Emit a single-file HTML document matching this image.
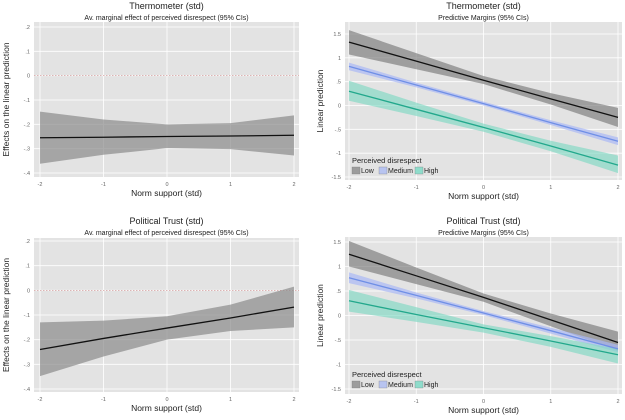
<!DOCTYPE html>
<html><head><meta charset="utf-8"><style>
body{margin:0;background:#fff;width:625px;height:415px;overflow:hidden}
svg{font-family:"Liberation Sans",sans-serif}
</style></head><body>
<svg id="c" width="625" height="415" xmlns="http://www.w3.org/2000/svg"></svg>
<script>
const xCats=[-2,-1,0,1,2];
const xTickLabels=["-2","-1","0","1","2"];
const ameTicks=[0.2,0.1,0,-0.1,-0.2,-0.3,-0.4];
const ameTickLabels=[".2",".1","0","-.1","-.2","-.3","-.4"];
const pmTicks=[1.5,1,0.5,0,-0.5,-1,-1.5];
const pmTickLabels=["1.5","1",".5","0","-.5","-1","-1.5"];
// Thermometer AME
const thermoAme=[-0.255,-0.253,-0.25,-0.248,-0.245];
const thermoAmeHi=[-0.148,-0.18,-0.2,-0.195,-0.163];
const thermoAmeLo=[-0.362,-0.325,-0.298,-0.302,-0.328];
// Political trust AME
const trustAme=[-0.24,-0.195,-0.153,-0.112,-0.068];
const trustAmeHi=[-0.13,-0.123,-0.105,-0.058,0.015];
const trustAmeLo=[-0.348,-0.268,-0.2,-0.165,-0.15];
// Thermometer margins
const thermoLow=[1.33,0.93,0.53,0.14,-0.25];
const thermoLowHi=[1.58,1.1,0.62,0.26,-0.05];
const thermoLowLo=[1.07,0.76,0.45,0.02,-0.45];
const thermoMed=[0.82,0.43,0.04,-0.36,-0.75];
const thermoMedHi=[0.9,0.48,0.08,-0.31,-0.67];
const thermoMedLo=[0.74,0.38,0.0,-0.41,-0.83];
const thermoHigh=[0.3,-0.08,-0.46,-0.85,-1.25];
const thermoHighHi=[0.52,0.06,-0.38,-0.74,-1.05];
const thermoHighLo=[0.1,-0.22,-0.55,-0.96,-1.42];
// Political trust margins
const trustLow=[1.25,0.81,0.37,-0.09,-0.55];
const trustLowHi=[1.52,0.98,0.45,0.04,-0.33];
const trustLowLo=[1.0,0.64,0.28,-0.22,-0.72];
const trustMed=[0.77,0.41,0.05,-0.31,-0.68];
const trustMedHi=[0.88,0.47,0.09,-0.25,-0.6];
const trustMedLo=[0.66,0.35,0.01,-0.37,-0.75];
const trustHigh=[0.3,0.02,-0.25,-0.52,-0.8];
const trustHighHi=[0.52,0.17,-0.18,-0.42,-0.68];
const trustHighLo=[0.08,-0.13,-0.35,-0.64,-0.98];

const svg=document.getElementById('c');
const NS="http://www.w3.org/2000/svg";
function mk(tag,attrs,parent){const e=document.createElementNS(NS,tag);for(const k in attrs)e.setAttribute(k,attrs[k]);(parent||svg).appendChild(e);return e;}
function txt(x,y,s,size,anchor,parent,rot){const t=mk('text',{x:x,y:y,'font-size':size,'text-anchor':anchor||'middle',fill:'#222'},parent);if(rot)t.setAttribute('transform',`rotate(-90 ${x} ${y})`);t.textContent=s;return t;}

function panel(cfg){
  const g=mk('g',{});
  
  
  const X=v=>cfg.x0+(v-(-2))/4*(cfg.x1-cfg.x0);
  const Y=v=>cfg.yTop+(cfg.tmax-v)/(cfg.tmax-cfg.tmin)*(cfg.yBot-cfg.yTop);
  const bg=mk('rect',{x:cfg.px0,y:cfg.py0,width:cfg.px1-cfg.px0,height:cfg.py1-cfg.py0,fill:'#e3e3e3'},g);
  
  cfg.ticks.forEach((t,i)=>{
    mk('line',{x1:cfg.px0,x2:cfg.px1,y1:Y(t),y2:Y(t),stroke:'#fff','stroke-width':0.8},g);
    const l=txt(cfg.px0-4,Y(t)+2,cfg.tickLabels[i],5.5,'end',g);l.setAttribute('fill','#666');
    
  });
  xCats.forEach((c,i)=>{
    mk('line',{x1:X(c),x2:X(c),y1:cfg.py0,y2:cfg.py1,stroke:'#fff','stroke-width':0.8},g);
    const l=txt(X(c),cfg.py1+9,xTickLabels[i],5.5,'middle',g);l.setAttribute('fill','#666');
    
  });
  if(cfg.zeroLine){const z=mk('line',{x1:cfg.px0,x2:cfg.px1,y1:Y(0),y2:Y(0),stroke:'#d09090','stroke-width':0.7,'stroke-dasharray':'1.5,1.5'},g);
    }
  cfg.series.forEach(s=>{
    let d='M'+xCats.map((c,i)=>X(c)+','+Y(s.hi[i])).join('L');
    d+='L'+xCats.slice().reverse().map((c,j)=>X(c)+','+Y(s.lo[4-j])).join('L')+'Z';
    const b=mk('path',{d:d,fill:s.fill,'fill-opacity':s.op},g);
    
  });
  cfg.series.forEach(s=>{
    const p=mk('polyline',{points:xCats.map((c,i)=>X(c)+','+Y(s.v[i])).join(' '),fill:'none',stroke:s.line,'stroke-width':1.3},g);
    
  });
  const t1=txt((cfg.px0+cfg.px1)/2,cfg.titleY,cfg.title,9,'middle',g);
  
  const t2=txt((cfg.px0+cfg.px1)/2,cfg.titleY+11,cfg.subtitle,7,'middle',g);
  
  const xt=txt((cfg.px0+cfg.px1)/2,cfg.py1+19,'Norm support (std)',8.5,'middle',g);
  
  const yt=txt(cfg.yTitleX,(cfg.py0+cfg.py1)/2,cfg.yTitle,8.5,'middle',g,true);
  
  if(cfg.legend){
    const lg=mk('g',{},g);
    const lx=cfg.px0+7,ly=cfg.py1-17;
    txt(lx,ly,'Perceived disrespect',7.5,'start',lg);
    const items=[['Low','#8a8a8a',0.8],['Medium','#b8c4f0',1],['High','#8fdccb',1]];
    let ox=lx;
    items.forEach(it=>{
      const r=mk('rect',{x:ox,y:ly+4,width:8,height:7,fill:it[1],'fill-opacity':it[2],stroke:'#777','stroke-width':0.3},lg);
      
      txt(ox+9,ly+10,it[0],7,'start',lg);
      ox+=it[0]==='Low'?27:it[0]==='Medium'?36:0;
    });
  }
}
const gray=(v,hi,lo)=>({name:'effect',v:v,hi:hi,lo:lo,fill:'#8a8a8a',op:0.7,line:'#111'});
const three=(a,b,c)=>[
  {name:'low',v:a[0],hi:a[1],lo:a[2],fill:'#7a7a7a',op:0.65,line:'#111'},
  {name:'medium',v:b[0],hi:b[1],lo:b[2],fill:'#a9b8f5',op:0.7,line:'#6f8fe6'},
  {name:'high',v:c[0],hi:c[1],lo:c[2],fill:'#7fd8c3',op:0.65,line:'#22a88c'}];
panel({name:'thermometer-ame-panel',px0:34,px1:299,py0:22,py1:177,x0:40,x1:294,yTop:27,yBot:173,tmax:0.2,tmin:-0.4,
  ticks:ameTicks,tickLabels:ameTickLabels,zeroLine:true,title:'Thermometer (std)',subtitle:'Av. marginal effect of perceived disrespect (95% CIs)',titleY:9,
  yTitle:'Effects on the linear prediction',yTitleX:9,series:[gray(thermoAme,thermoAmeHi,thermoAmeLo)]});
panel({name:'thermometer-margins-panel',px0:345,px1:622,py0:22,py1:180,x0:349,x1:618,yTop:34,yBot:177,tmax:1.5,tmin:-1.5,
  ticks:pmTicks,tickLabels:pmTickLabels,title:'Thermometer (std)',subtitle:'Predictive Margins (95% CIs)',titleY:9,
  yTitle:'Linear prediction',yTitleX:323,legend:true,
  series:three([thermoLow,thermoLowHi,thermoLowLo],[thermoMed,thermoMedHi,thermoMedLo],[thermoHigh,thermoHighHi,thermoHighLo])});
panel({name:'trust-ame-panel',px0:34,px1:299,py0:238,py1:392,x0:40,x1:294,yTop:241,yBot:389,tmax:0.2,tmin:-0.4,
  ticks:ameTicks,tickLabels:ameTickLabels,zeroLine:true,title:'Political Trust (std)',subtitle:'Av. marginal effect of perceived disrespect (95% CIs)',titleY:224,
  yTitle:'Effects on the linear prediction',yTitleX:9,series:[gray(trustAme,trustAmeHi,trustAmeLo)]});
panel({name:'trust-margins-panel',px0:345,px1:622,py0:237,py1:394,x0:349,x1:618,yTop:242,yBot:389,tmax:1.5,tmin:-1.5,
  ticks:pmTicks,tickLabels:pmTickLabels,title:'Political Trust (std)',subtitle:'Predictive Margins (95% CIs)',titleY:224,
  yTitle:'Linear prediction',yTitleX:323,legend:true,
  series:three([trustLow,trustLowHi,trustLowLo],[trustMed,trustMedHi,trustMedLo],[trustHigh,trustHighHi,trustHighLo])});
</script>
</body></html>
